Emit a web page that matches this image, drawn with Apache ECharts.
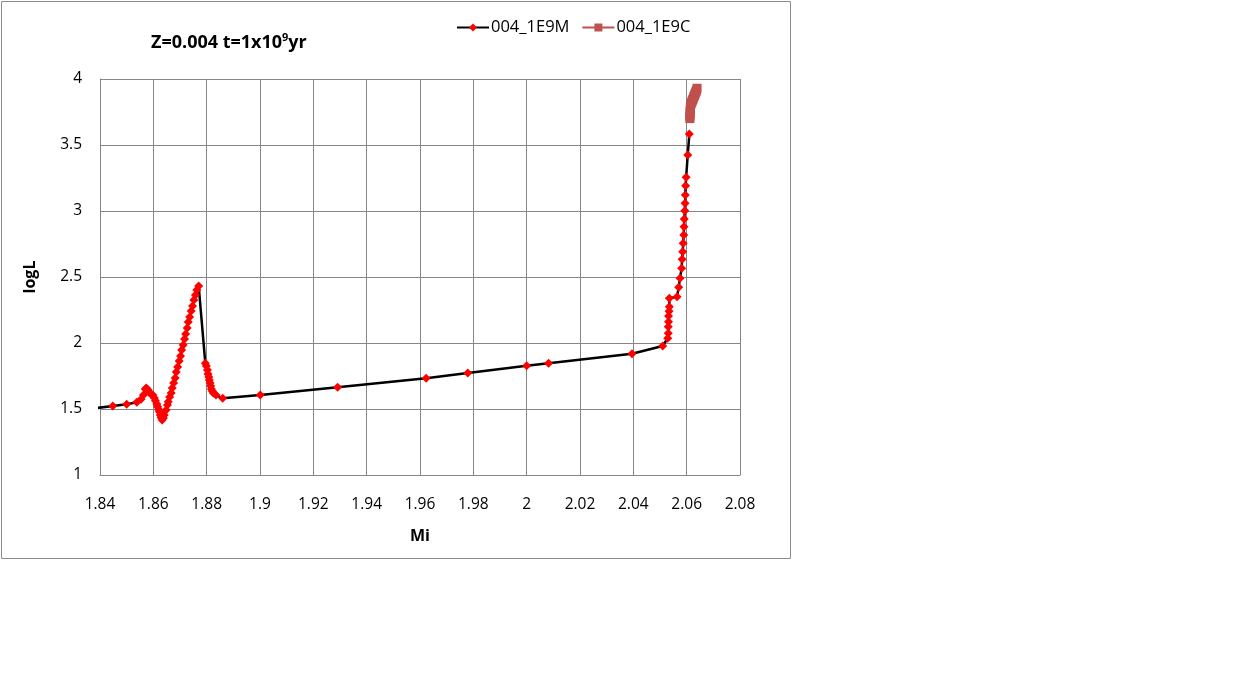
<!DOCTYPE html>
<html><head><meta charset="utf-8">
<script src="https://cdn.jsdelivr.net/npm/echarts@6/dist/echarts.min.js"></script>
<style>html,body{margin:0;padding:0;background:#fff}#c{width:1250px;height:695px}</style>
</head><body><div id="c"></div>
<script>
// Series 004_1E9M
const miM = [1.836,1.8448,1.8500,1.8538,1.8554,1.8563,1.8570,1.8574,1.8581,1.8585,1.8591,1.8598,1.8604,1.8608,1.8613,1.8616,1.8620,1.8623,1.8626,1.8629,1.8633,
  1.8638,1.8641,1.8648,1.8653,1.8656,1.8661,1.8667,1.8671,1.8676,1.8682,1.8686,1.8691,1.8697,1.8702,1.8706,1.8712,1.8717,1.8721,1.8727,1.8731,1.8736,1.8742,1.8747,1.8752,1.8758,1.8763,1.8770,
  1.8795,1.8799,1.8803,1.8805,1.8808,1.8810,1.8813,1.8815,1.8818,1.8821,1.8825,1.8835,1.8860,
  1.9001,1.9291,1.9623,1.9779,2.0000,2.0082,2.0395,2.0510,
  2.0529,2.0531,2.0531,2.0532,2.0532,2.0534,2.0535,2.0535,2.0564,2.0570,2.0575,2.0581,2.0583,2.0585,2.0587,2.0589,2.0590,2.0591,2.0593,2.0594,2.0595,2.0596,2.0598,2.0604,2.0610];
const logLM = [1.500,1.523,1.536,1.551,1.573,1.606,1.652,1.659,1.644,1.624,1.614,1.606,1.583,1.563,1.538,1.517,1.496,1.480,1.455,1.436,1.417,
  1.432,1.455,1.492,1.530,1.555,1.591,1.621,1.659,1.697,1.735,1.780,1.818,1.864,1.902,1.947,1.985,2.030,2.068,2.114,2.159,2.197,2.242,2.280,2.326,2.364,2.402,2.432,
  1.846,1.826,1.795,1.765,1.742,1.720,1.697,1.674,1.652,1.636,1.621,1.606,1.581,
  1.606,1.664,1.733,1.773,1.828,1.846,1.919,1.977,
  2.036,2.074,2.124,2.161,2.205,2.240,2.275,2.339,2.351,2.422,2.490,2.566,2.634,2.692,2.755,2.818,2.881,2.939,3.002,3.058,3.121,3.192,3.255,3.424,3.583];
// Series 004_1E9C
const miC = [2.0612,2.0612,2.0613,2.0613,2.0613,2.0614,2.0614,2.0615,2.0617,2.0619,2.0621,2.0623,2.0625,2.0627,2.0629,2.0631,2.0633,2.0635,2.0637,2.0639];
const logLC = [3.700,3.715,3.730,3.745,3.760,3.775,3.790,3.805,3.815,3.825,3.835,3.845,3.855,3.865,3.875,3.885,3.895,3.905,3.915,3.930];
const seriesNames = ['004_1E9M','004_1E9C'];
const xTicks = {min:1.84,max:2.08,interval:0.02};
const yTicks = {min:1,max:4,interval:0.5};

const font = "'Open Sans', 'Noto Sans', sans-serif";
const chart = echarts.init(document.getElementById('c'), null, {renderer:'canvas'});
chart.setOption({
  animation:false,
  backgroundColor:'#fff',
  graphic:[{type:'rect',shape:{x:1.5,y:1.5,width:789,height:557},style:{fill:'none',stroke:'#8c8c8c',lineWidth:1},silent:true}],
  title:{
    text:'Z=0.004 t=1x10{s|9}yr',
    left:146, top:27,
    textStyle:{fontFamily:font,fontSize:18,fontWeight:'bold',color:'#000',
      rich:{s:{fontSize:11,fontWeight:'bold',verticalAlign:'top',padding:[0,0,11,0],fontFamily:font}}}
  },
  legend:{
    data:seriesNames, top:14, left:451, itemGap:12, itemWidth:32, itemHeight:10,
    textStyle:{fontFamily:font,fontSize:16.5,color:'#000',padding:[0,0,0,-3]}
  },
  grid:{left:100,top:79,width:640,height:396,containLabel:false},
  xAxis:{
    type:'value', min:xTicks.min, max:xTicks.max, interval:xTicks.interval,
    name:'Mi', nameLocation:'middle', nameGap:53,
    nameTextStyle:{fontFamily:font,fontSize:16,fontWeight:'bold',color:'#000'},
    axisLine:{show:true,lineStyle:{color:'#868686'}},
    axisTick:{show:false},
    axisLabel:{fontFamily:font,fontSize:15.5,color:'#000',margin:22,
      formatter:v=>String(parseFloat(v.toFixed(2)))},
    splitLine:{show:true,lineStyle:{color:'#868686',width:1}}
  },
  yAxis:{
    type:'value', min:yTicks.min, max:yTicks.max, interval:yTicks.interval,
    name:'logL', nameLocation:'middle', nameGap:62, nameRotate:90,
    nameTextStyle:{fontFamily:font,fontSize:16,fontWeight:'bold',color:'#000'},
    axisLine:{show:true,lineStyle:{color:'#868686'}},
    axisTick:{show:false},
    axisLabel:{fontFamily:font,fontSize:15.5,color:'#000',margin:18,
      formatter:v=>String(parseFloat(v.toFixed(2)))},
    splitLine:{show:true,lineStyle:{color:'#868686',width:1}}
  },
  series:[
    {name:seriesNames[0], type:'line', clip:true,
     data:miM.map((x,i)=>[x,logLM[i]]),
     symbol:'diamond', symbolSize:9, showAllSymbol:true,
     lineStyle:{color:'#000',width:2.5},
     itemStyle:{color:'#ff0000',borderWidth:0}},
    {name:seriesNames[1], type:'line', clip:true,
     data:miC.map((x,i)=>[x,logLC[i]]),
     symbol:'rect', symbolSize:9, showAllSymbol:true,
     lineStyle:{color:'#c0504d',width:2.5},
     itemStyle:{color:'#c0504d',borderWidth:0}}
  ]
});
</script></body></html>
